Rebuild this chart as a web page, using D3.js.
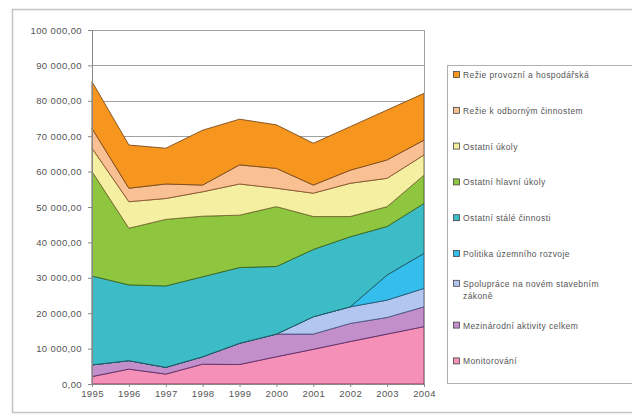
<!DOCTYPE html>
<html lang="cs">
<head>
<meta charset="utf-8">
<title>Náklady podle činností 1995-2004</title>
<script src="https://d3js.org/d3.v7.min.js"></script>
<style>
    body { margin: 0; background: #fff; }
    svg { font-family: "Liberation Sans", Arial, sans-serif; }
    .axis text { font-size: 9.5px; fill: #555; letter-spacing: 0.4px; }
    .axis path, .axis line { stroke: #888; }
    .legend text { font-size: 8.5px; fill: #555; letter-spacing: 0.4px; }
</style>
</head>
<body>
<svg id="chart"></svg>
<script>
// years on the x axis
const years = [1995, 1996, 1997, 1998, 1999, 2000, 2001, 2002, 2003, 2004];

// series, bottom of the stack first
const monitorovani   = [2100, 4200, 2800, 5600, 5500, 7700, 9800, 12000, 14100, 16200];
const mezinarodni    = [3300, 2400, 1900, 2100, 6000, 6400, 4300, 5100, 4700, 5600];
const spoluprace     = [0, 0, 0, 0, 0, 0, 4900, 4700, 4900, 5200];
const politika       = [0, 0, 0, 0, 0, 0, 0, 0, 7100, 9900];
const ostatniStale   = [25100, 21400, 23000, 22600, 21400, 19100, 19000, 19800, 13700, 14100];
const ostatniHlavni  = [29500, 16000, 18800, 17100, 14800, 16900, 9300, 5700, 5600, 8000];
const ostatniUkoly   = [6600, 7500, 5900, 6900, 8800, 5200, 6600, 9400, 8000, 5700];
const rezieOdborne   = [5600, 3800, 4100, 1900, 5400, 5600, 2300, 3700, 5200, 4200];
const rezieProvozni  = [13200, 12200, 10100, 15500, 12900, 12300, 11800, 12300, 14100, 13200];

const seriesNames = [
    "Monitorování",
    "Mezinárodní aktivity celkem",
    "Spolupráce na novém stavebním zákoně",
    "Politika územního rozvoje",
    "Ostatní stálé činnosti",
    "Ostatní hlavní úkoly",
    "Ostatní úkoly",
    "Režie k odborným činnostem",
    "Režie provozní a hospodářská"
];
const seriesValues = [monitorovani, mezinarodni, spoluprace, politika, ostatniStale,
                      ostatniHlavni, ostatniUkoly, rezieOdborne, rezieProvozni];
const seriesColors = ["#f590b9", "#c28fcb", "#b2c6ef", "#35bdec", "#3cbcc6",
                      "#8ec63f", "#f5efa2", "#f9c193", "#f7961f"];
const seriesStrokes = ["#7a2e4e", "#5e2f6a", "#4a5a86", "#1a5e78", "#1d5a60",
                       "#3d6a1c", "#7a6a30", "#8a5530", "#7a4a18"];

const yTicks = [0, 10000, 20000, 30000, 40000, 50000, 60000, 70000, 80000, 90000, 100000];

// layout
const W = 632, H = 419;
const plot = { left: 92, right: 424, top: 30, bottom: 384 };

const svg = d3.select("#chart").attr("width", W).attr("height", H);

// outer chart border
svg.append("rect")
    .attr("x", 12.5).attr("y", 9.5)
    .attr("width", 640).attr("height", 403)
    .attr("fill", "#fff").attr("stroke", "#c4c4c4").attr("stroke-width", 1.5);

const x = d3.scaleLinear().domain(d3.extent(years)).range([plot.left, plot.right]);
const y = d3.scaleLinear().domain([0, 100000]).range([plot.bottom, plot.top]);

// build rows for d3.stack
const rows = years.map((yr, i) => {
    const r = { year: yr };
    seriesNames.forEach((n, k) => r[n] = seriesValues[k][i]);
    return r;
});
const stacked = d3.stack().keys(seriesNames)(rows);

// gridlines
svg.append("g")
    .selectAll("line")
    .data(yTicks.slice(1))
    .enter()
    .append("line")
    .attr("x1", plot.left).attr("x2", plot.right)
    .attr("y1", d => Math.round(y(d)) + 0.5).attr("y2", d => Math.round(y(d)) + 0.5)
    .attr("stroke", "#a0a0a0");

// areas
const area = d3.area()
    .x(d => x(d.data.year))
    .y0(d => y(d[0]))
    .y1(d => y(d[1]));

svg.append("g")
    .selectAll("path")
    .data(stacked)
    .enter()
    .append("path")
    .attr("d", area)
    .attr("fill", (d, i) => seriesColors[i])
    .attr("stroke", (d, i) => seriesStrokes[i])
    .attr("stroke-width", 0.9)
    .attr("stroke-linejoin", "round");

// right border of plot area
svg.append("line")
    .attr("x1", plot.right + 0.5).attr("x2", plot.right + 0.5)
    .attr("y1", plot.top).attr("y2", plot.bottom)
    .attr("stroke", "#a0a0a0");

// axes
const loc = d3.formatLocale({ decimal: ",", thousands: "\u00a0", grouping: [3], currency: ["", ""] });
const fmt = loc.format(",.2f");

svg.append("g")
    .attr("class", "axis")
    .attr("transform", `translate(${plot.left},0)`)
    .call(d3.axisLeft(y).tickValues(yTicks).tickFormat(fmt).tickSize(4).tickPadding(6))
    .call(g => g.select(".domain").attr("stroke", "#888"));

svg.append("g")
    .attr("class", "axis")
    .attr("transform", `translate(0,${plot.bottom})`)
    .call(d3.axisBottom(x).tickValues(years).tickFormat(d3.format("d")).tickSize(3).tickPadding(3));

// legend
const legend = svg.append("g").attr("class", "legend");
legend.append("rect")
    .attr("x", 447.5).attr("y", 65.5)
    .attr("width", 200).attr("height", 318)
    .attr("fill", "#fff").attr("stroke", "#b0b0b0");

const legendOrder = d3.range(seriesNames.length).reverse();
const legendY = i => 75 + i * 35.8;
const legendLines = {
    "Spolupráce na novém stavebním zákoně": ["Spolupráce na novém stavebním", "zákoně"]
};

legendOrder.forEach((k, i) => {
    const cy = legendY(i);
    const lines = legendLines[seriesNames[k]] || [seriesNames[k]];
    const top = cy - (lines.length - 1) * 6;
    legend.append("rect")
        .attr("x", 453.5).attr("y", top - 3.5)
        .attr("width", 6).attr("height", 6)
        .attr("fill", seriesColors[k])
        .attr("stroke", "#444").attr("stroke-width", 0.8);
    lines.forEach((t, j) => {
        legend.append("text")
            .attr("x", 463)
            .attr("y", top + j * 12)
            .attr("dy", "0.35em")
            .text(t);
    });
});
</script>
</body>
</html>
